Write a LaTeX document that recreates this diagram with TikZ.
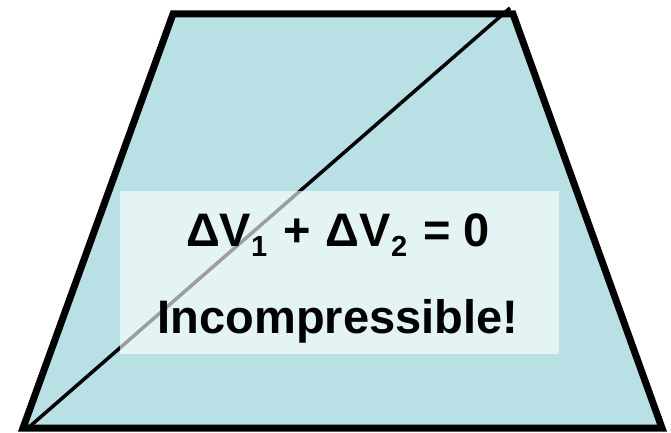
\documentclass[tikz,border=0pt]{standalone}
\usepackage{fontspec}
\setmainfont{Liberation Sans}
\newcommand{\lowsub}[1]{\raisebox{-10pt}{\fontsize{29}{29}\selectfont #1}}
\begin{document}
\begin{tikzpicture}[x=1pt,y=-1pt,
  outline/.style={line width=7pt,line join=miter},
  diag/.style={line width=3.5pt},
  labelbox/.style={fill=white,fill opacity=0.62,text opacity=1,inner sep=0pt,minimum width=439pt,minimum height=163pt,align=center},
  bigtext/.style={font=\fontsize{47}{47}\selectfont\bfseries,anchor=base,inner sep=0pt}]
\useasboundingbox (0,0) rectangle (671,433);
\definecolor{teal}{HTML}{B9E0E4}
\coordinate (tl) at (173,14);
\coordinate (tr) at (513,14);
\coordinate (br) at (662,428);
\coordinate (bl) at (23,428);
\coordinate (dtop) at (510,8);
\coordinate (dbot) at (28,428);
\fill[teal] (tl) -- (tr) -- (br) -- (bl) -- cycle;
\draw[diag] (dbot) -- (dtop);
\draw[outline] (tl) -- (tr) -- (br) -- (bl) -- cycle;
\node[labelbox] (box) at (339.5,272.5) {};
\node[bigtext] (eq) at (338,246) {ΔV\lowsub{1}\hspace{3pt} + \hspace{2pt}ΔV\lowsub{2}\hspace{3pt} = 0};
\node[bigtext] (inc) at (338,333) {Incompressible!};
\end{tikzpicture}
\end{document}
